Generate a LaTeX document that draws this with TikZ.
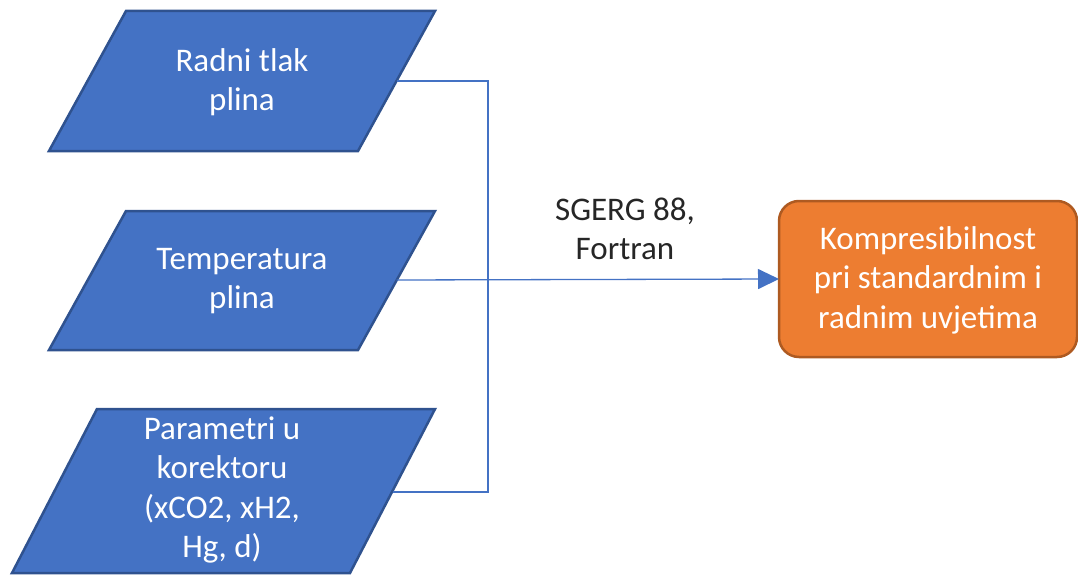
\documentclass[tikz,border=0pt]{standalone}
\usepackage{fontspec}
\setmainfont{Carlito}
\usetikzlibrary{arrows.meta}
\definecolor{blfill}{HTML}{4472C4}
\definecolor{bldraw}{HTML}{2F528F}
\definecolor{orfill}{HTML}{ED7D31}
\definecolor{ordraw}{HTML}{AE5A21}
\definecolor{txtdark}{HTML}{262626}
\tikzset{
  para/.style={fill=blfill, draw=bldraw, line width=2.5pt, line join=miter},
  bigtext/.style={align=center, font=\fontsize{33pt}{39.5pt}\selectfont, inner sep=0pt},
  paratext/.style={bigtext, text=white},
  conn/.style={draw=blfill, line width=1.3pt},
  resbox/.style={fill=orfill, draw=ordraw, line width=2.5pt, rounded corners=20pt},
}
\begin{document}
\begin{tikzpicture}[x=1pt,y=-1pt]
\useasboundingbox (0,0) rectangle (1078,575);
% parallelograms
\draw[para] (126,11) -- (435,11) -- (358,151) -- (49,151) -- cycle;
\draw[para] (126,211) -- (435,211) -- (358,350) -- (49,350) -- cycle;
\draw[para] (97,409) -- (435,409) -- (350,573) -- (12,573) -- cycle;
\node[paratext] (p1) at (242,82) {Radni tlak\\plina};
\node[paratext] (p2) at (242,281) {Temperatura\\plina};
\node[paratext] (p3) at (222,490) {Parametri u\\korektoru\\(xCO2, xH2,\\Hg, d)};
\coordinate (p1r) at (396.5,81);
\coordinate (p2r) at (396.5,280);
\coordinate (p3r) at (392.5,492);
\coordinate (j1) at (488,81);
\coordinate (j3) at (488,492);
% result box
\draw[resbox] (779,201) rectangle (1077,357);
\node[paratext] (res) at (928,280) {Kompresibilnost\\pri standardnim i\\radnim uvjetima};
\coordinate (resw) at (779,279);
% connectors
\draw[conn] (p1r) -- (j1) -- (j3) -- (p3r);
\draw[conn, -{Triangle[length=21pt,width=20pt]}] (p2r) -- (resw);
\node[bigtext, text=txtdark] (lab) at (625,229) {SGERG 88,\\Fortran};
\end{tikzpicture}
\end{document}
